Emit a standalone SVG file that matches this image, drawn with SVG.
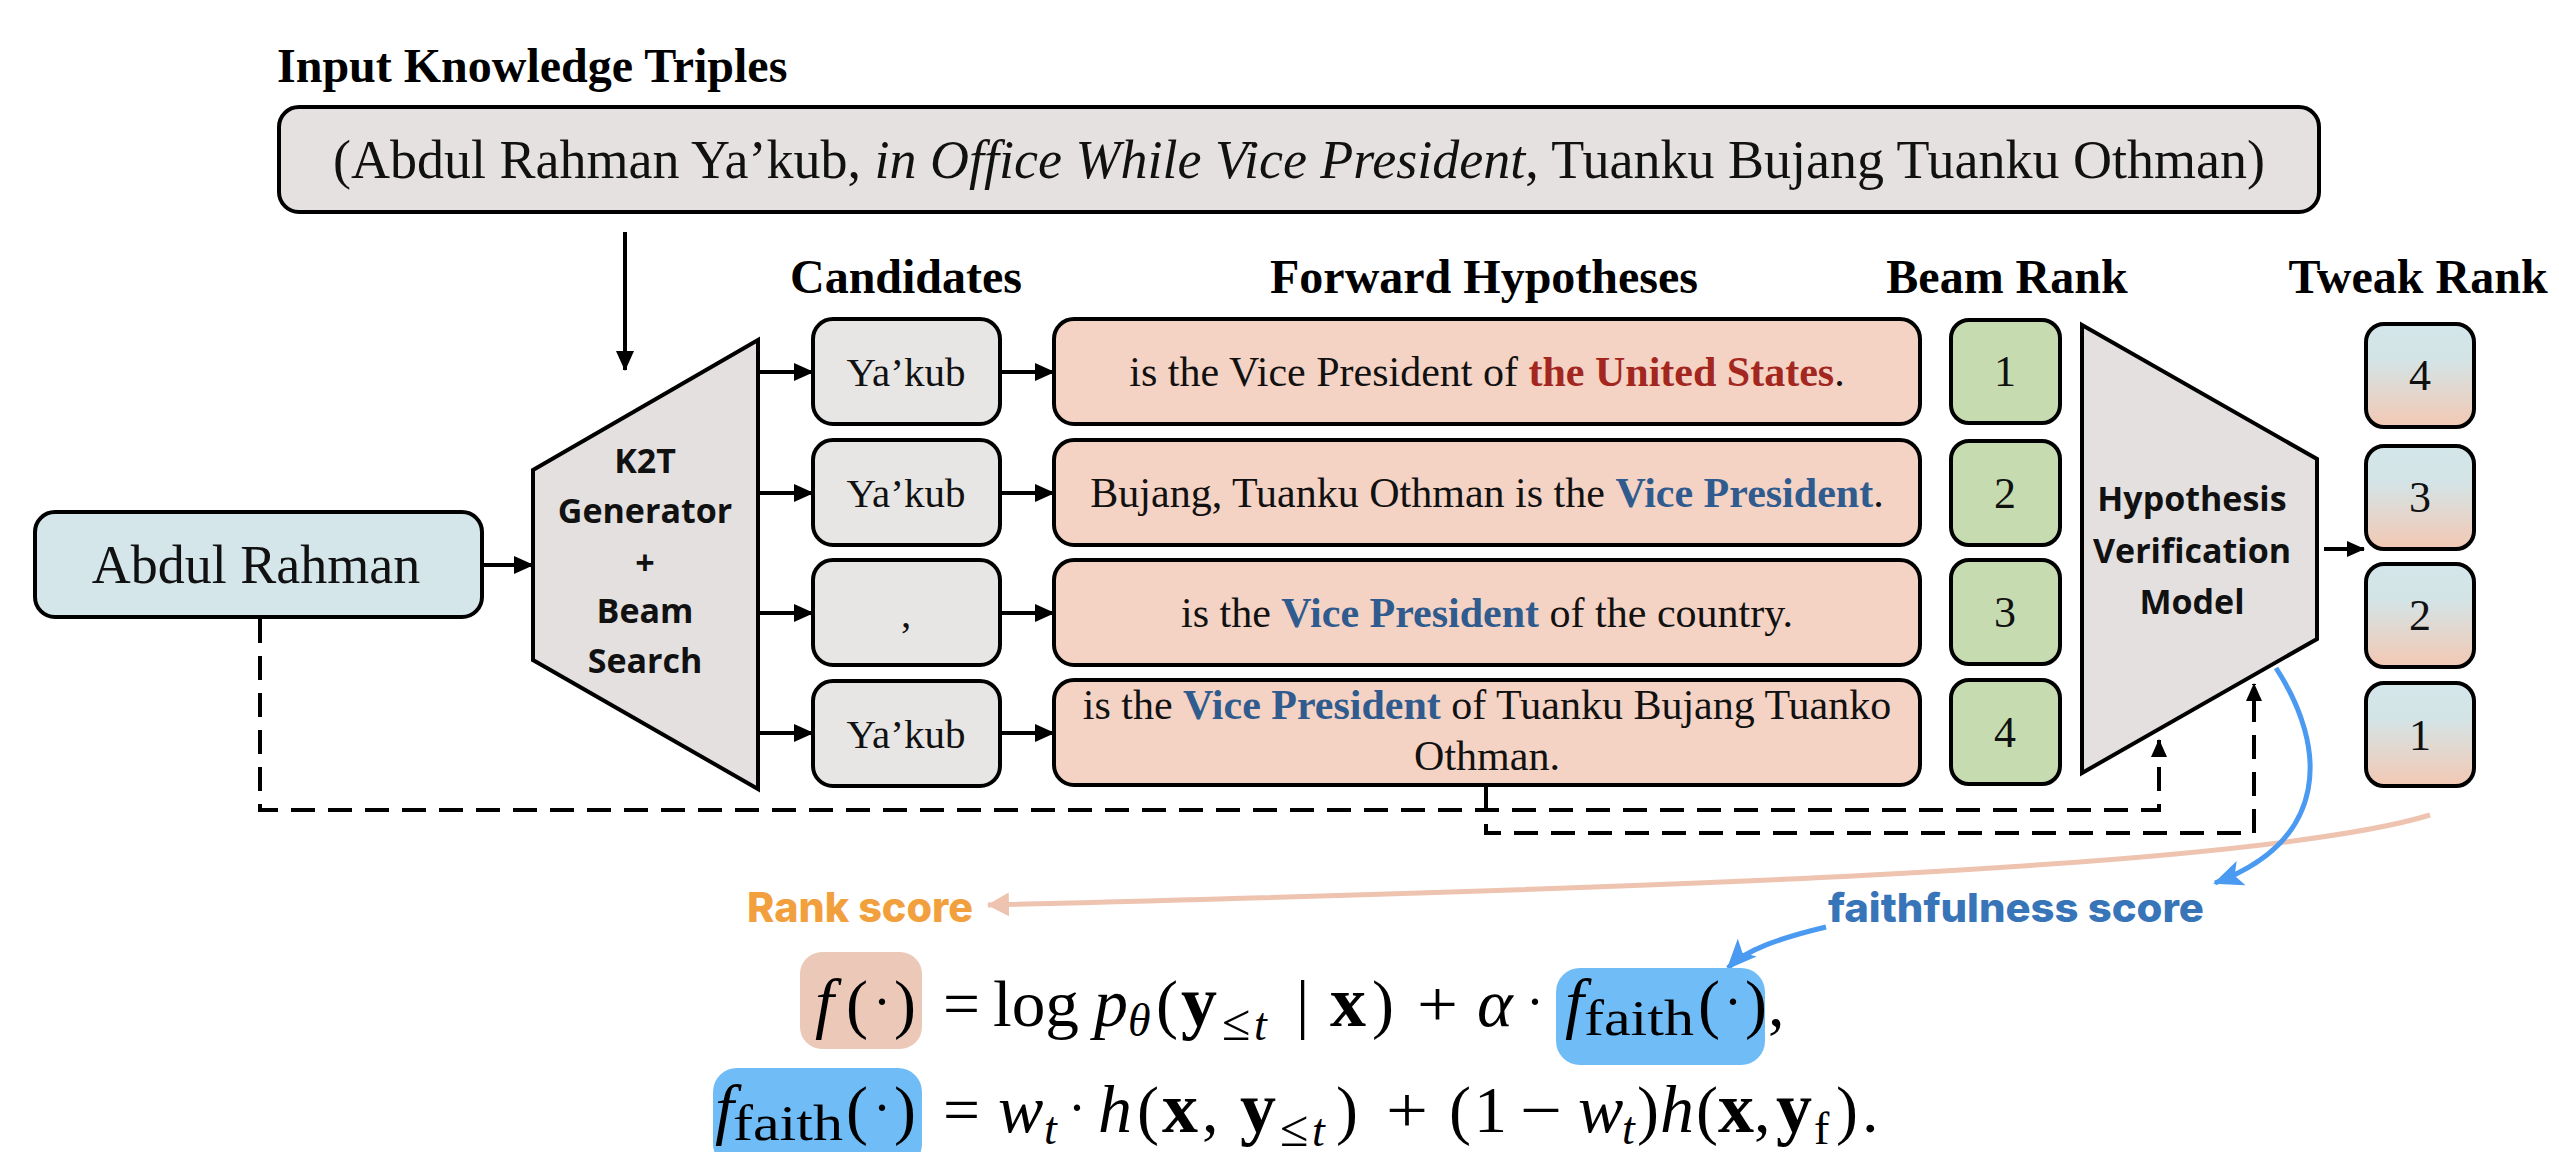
<svg xmlns="http://www.w3.org/2000/svg" width="2559" height="1152" viewBox="0 0 2559 1152">
<style>
.box{stroke:#000;stroke-width:4}
.serif{font-family:"Liberation Serif","Times New Roman",serif}
.hdr{font-family:"Liberation Serif","Times New Roman",serif;font-weight:bold;font-size:48px;text-anchor:middle;fill:#000}
.sans{font-family:"Open Sans","Noto Sans",sans-serif;font-weight:700;font-size:34px;text-anchor:middle;fill:#111}
.cand{font-family:"Liberation Serif","Times New Roman",serif;font-size:41px;text-anchor:middle;fill:#111}
.hyp{font-family:"Liberation Serif","Times New Roman",serif;font-size:42px;text-anchor:middle;fill:#111}
.num{font-family:"Liberation Serif","Times New Roman",serif;font-size:44px;text-anchor:middle;fill:#111}
.red{fill:#a3271f;font-weight:bold}
.blue{fill:#2f5b8e;font-weight:bold}
.conn{stroke:#000;stroke-width:4;fill:none}
.dash{stroke:#000;stroke-width:4;fill:none;stroke-dasharray:24 13}
.m{font-family:"Liberation Serif","Times New Roman",serif;font-size:66px;fill:#000}
.mi{font-style:italic;font-size:68px}
.mb{font-weight:bold;font-size:72px}
.sub{font-size:46px}
.le{font-size:52px}
.fa{font-size:50px}
.dot{font-size:54px}
</style>
<defs>
<marker id="ah" markerUnits="userSpaceOnUse" markerWidth="20" markerHeight="18" refX="19" refY="9" orient="auto">
<path d="M0,0 L20,9 L0,18 z" fill="#000"/>
</marker>
<marker id="ahs" markerUnits="userSpaceOnUse" markerWidth="18" markerHeight="16" refX="17" refY="8" orient="auto">
<path d="M0,0 L18,8 L0,16 z" fill="#000"/>
</marker>
<marker id="ahb" markerUnits="userSpaceOnUse" markerWidth="30" markerHeight="26" refX="28" refY="13" orient="auto">
<path d="M0,0 L30,13 L0,26 L7,13 z" fill="#4a9af2"/>
</marker>
<marker id="ahsal" markerUnits="userSpaceOnUse" markerWidth="22" markerHeight="24" refX="21" refY="12" orient="auto">
<path d="M0,0 L22,12 L0,24 z" fill="#eec3b0"/>
</marker>
<linearGradient id="tg" x1="0" y1="0" x2="0" y2="1">
<stop offset="0" stop-color="#d3e6ea"/>
<stop offset="0.35" stop-color="#d4e4e6"/>
<stop offset="1" stop-color="#f3c8b3"/>
</linearGradient>
</defs>
<rect width="2559" height="1152" fill="#fff"/>

<text class="serif" x="277" y="82" font-size="48" font-weight="bold">Input Knowledge Triples</text>

<g id="triples">
<rect class="box" x="279" y="107" width="2040" height="105" rx="20" fill="#e4e1e0"/>
<text class="serif" x="1299" y="178" font-size="54" text-anchor="middle" fill="#111">(Abdul Rahman Ya’kub, <tspan font-style="italic">in Office While Vice President</tspan>, Tuanku Bujang Tuanku Othman)</text>
</g>

<g id="abdul">
<rect class="box" x="35" y="512" width="447" height="105" rx="20" fill="#d4e6ea"/>
<text class="serif" x="256" y="583" font-size="54" text-anchor="middle" fill="#111">Abdul Rahman</text>
</g>

<g id="k2t">
<polygon class="box" points="533,470 758,340 758,789 533,660" fill="#e3e0df"/>
<text class="sans" x="645" y="473">K2T</text>
<text class="sans" x="645" y="523">Generator</text>
<text class="sans" x="645" y="575">+</text>
<text class="sans" x="645" y="623">Beam</text>
<text class="sans" x="645" y="673">Search</text>
</g>

<text class="hdr" x="906" y="293">Candidates</text>
<text class="hdr" x="1484" y="293">Forward Hypotheses</text>
<text class="hdr" x="2007" y="293">Beam Rank</text>
<text class="hdr" x="2418" y="293">Tweak Rank</text>

<g id="cand1"><rect class="box" x="813" y="319" width="187" height="105" rx="20" fill="#e8e6e5"/><text class="cand" x="906" y="386">Ya’kub</text></g>
<g id="cand2"><rect class="box" x="813" y="440" width="187" height="105" rx="20" fill="#e8e6e5"/><text class="cand" x="906" y="507">Ya’kub</text></g>
<g id="cand3"><rect class="box" x="813" y="560" width="187" height="105" rx="20" fill="#e8e6e5"/><text class="cand" x="906" y="627">,</text></g>
<g id="cand4"><rect class="box" x="813" y="681" width="187" height="105" rx="20" fill="#e8e6e5"/><text class="cand" x="906" y="748">Ya’kub</text></g>

<g id="hyp1"><rect class="box" x="1054" y="319" width="866" height="105" rx="20" fill="#f5d3c4"/><text class="hyp" x="1487" y="386">is the Vice President of <tspan class="red">the United States</tspan>.</text></g>
<g id="hyp2"><rect class="box" x="1054" y="440" width="866" height="105" rx="20" fill="#f5d3c4"/><text class="hyp" x="1487" y="507">Bujang, Tuanku Othman is the <tspan class="blue">Vice President</tspan>.</text></g>
<g id="hyp3"><rect class="box" x="1054" y="560" width="866" height="105" rx="20" fill="#f5d3c4"/><text class="hyp" x="1487" y="627">is the <tspan class="blue">Vice President</tspan> of the country.</text></g>
<g id="hyp4"><rect class="box" x="1054" y="680" width="866" height="105" rx="20" fill="#f5d3c4"/><text class="hyp" x="1487" y="719">is the <tspan class="blue">Vice President</tspan> of Tuanku Bujang Tuanko</text><text class="hyp" x="1487" y="770">Othman.</text></g>

<g id="beam1"><rect class="box" x="1951" y="320" width="109" height="103" rx="18" fill="#c6dcb0"/><text class="num" x="2005" y="386">1</text></g>
<g id="beam2"><rect class="box" x="1951" y="441" width="109" height="104" rx="18" fill="#c6dcb0"/><text class="num" x="2005" y="508">2</text></g>
<g id="beam3"><rect class="box" x="1951" y="560" width="109" height="104" rx="18" fill="#c6dcb0"/><text class="num" x="2005" y="627">3</text></g>
<g id="beam4"><rect class="box" x="1951" y="680" width="109" height="104" rx="18" fill="#c6dcb0"/><text class="num" x="2005" y="747">4</text></g>

<g id="hvm">
<polygon class="box" points="2082,325 2317,459 2317,639 2082,773" fill="#e3e0df"/>
<text class="sans" x="2192" y="511">Hypothesis</text>
<text class="sans" x="2192" y="563">Verification</text>
<text class="sans" x="2192" y="614">Model</text>
</g>

<g id="tweak1"><rect class="box" x="2366" y="324" width="108" height="103" rx="18" fill="url(#tg)"/><text class="num" x="2420" y="390">4</text></g>
<g id="tweak2"><rect class="box" x="2366" y="446" width="108" height="103" rx="18" fill="url(#tg)"/><text class="num" x="2420" y="512">3</text></g>
<g id="tweak3"><rect class="box" x="2366" y="564" width="108" height="103" rx="18" fill="url(#tg)"/><text class="num" x="2420" y="630">2</text></g>
<g id="tweak4"><rect class="box" x="2366" y="683" width="108" height="103" rx="18" fill="url(#tg)"/><text class="num" x="2420" y="750">1</text></g>

<g id="connectors">
<path class="conn" stroke-width="3" d="M625,232 V370" marker-end="url(#ah)"/>
<path class="conn" d="M482,565 H533" marker-end="url(#ah)"/>
<path class="conn" d="M759,372 H813" marker-end="url(#ah)"/>
<path class="conn" d="M759,493 H813" marker-end="url(#ah)"/>
<path class="conn" d="M759,613 H813" marker-end="url(#ah)"/>
<path class="conn" d="M759,733 H813" marker-end="url(#ah)"/>
<path class="conn" d="M1002,372 H1054" marker-end="url(#ah)"/>
<path class="conn" d="M1002,493 H1054" marker-end="url(#ah)"/>
<path class="conn" d="M1002,613 H1054" marker-end="url(#ah)"/>
<path class="conn" d="M1002,733 H1054" marker-end="url(#ah)"/>
<path class="conn" stroke-width="3" d="M2324,549 H2364" marker-end="url(#ahs)"/>
<path class="dash" d="M260,619 V810 H2159 V740" marker-end="url(#ahs)"/>
<path class="dash" d="M1486,787 V833 H2254 V684" marker-end="url(#ahs)"/>
<path d="M2430,815 C2250,870 1600,890 988,905" fill="none" stroke="#eec3b0" stroke-width="5" marker-end="url(#ahsal)"/>
<path d="M2276,668 C2328,748 2330,840 2215,883" fill="none" stroke="#4a9af2" stroke-width="5" marker-end="url(#ahb)"/>
<path d="M1826,927 C1780,938 1745,950 1728,968" fill="none" stroke="#4a9af2" stroke-width="5" marker-end="url(#ahb)"/>
</g>

<text x="747" y="922" font-family="Inter,'Noto Sans',sans-serif" font-weight="800" font-size="41" fill="#f2a03d" textLength="226" lengthAdjust="spacingAndGlyphs">Rank score</text>
<text x="1828" y="922" font-family="Inter,'Noto Sans',sans-serif" font-weight="800" font-size="40" fill="#3774b8" textLength="376" lengthAdjust="spacingAndGlyphs">faithfulness score</text>

<g id="formula">
<rect x="800" y="952" width="122" height="97" rx="22" fill="#ecc8b8"/>
<rect x="1556" y="968" width="209" height="97" rx="24" fill="#70bcf6"/>
<rect x="713" y="1068" width="209" height="100" rx="24" fill="#70bcf6"/>
<g class="m">
<text x="815" y="1026" class="mi">f</text>
<text x="846" y="1026">(</text><text x="873" y="1020" class="dot">·</text><text x="894" y="1026">)</text>
<text x="943" y="1026" textLength="37" lengthAdjust="spacingAndGlyphs">=</text>
<text x="993" y="1026" textLength="86" lengthAdjust="spacingAndGlyphs">log</text>
<text x="1094" y="1026" class="mi">p</text><text x="1128" y="1036" class="mi sub">θ</text>
<text x="1156" y="1026">(</text>
<text x="1181" y="1026" class="mb">y</text>
<text x="1222" y="1040" class="le">≤</text><text x="1254" y="1040" class="mi sub">t</text>
<text x="1296" y="1026">|</text>
<text x="1330" y="1026" class="mb">x</text>
<text x="1372" y="1026">)</text>
<text x="1417" y="1026" textLength="41" lengthAdjust="spacingAndGlyphs">+</text>
<text x="1477" y="1026" class="mi">α</text>
<text x="1526" y="1020" class="dot">·</text>
<text x="1565" y="1026" class="mi">f</text><text x="1584" y="1035" class="fa" textLength="110" lengthAdjust="spacingAndGlyphs">faith</text>
<text x="1698" y="1026">(</text><text x="1724" y="1020" class="dot">·</text><text x="1745" y="1026">)</text>
<text x="1768" y="1026">,</text>

<text x="715" y="1132" class="mi">f</text><text x="733" y="1140" class="fa" textLength="110" lengthAdjust="spacingAndGlyphs">faith</text>
<text x="846" y="1132">(</text><text x="873" y="1126" class="dot">·</text><text x="894" y="1132">)</text>
<text x="943" y="1132" textLength="37" lengthAdjust="spacingAndGlyphs">=</text>
<text x="998" y="1132" class="mi">w</text><text x="1044" y="1144" class="mi sub">t</text>
<text x="1068" y="1126" class="dot">·</text>
<text x="1098" y="1132" class="mi">h</text>
<text x="1137" y="1132">(</text>
<text x="1162" y="1132" class="mb">x</text><text x="1202" y="1132">,</text>
<text x="1240" y="1132" class="mb">y</text>
<text x="1280" y="1146" class="le">≤</text><text x="1312" y="1146" class="mi sub">t</text>
<text x="1336" y="1132">)</text>
<text x="1386" y="1132" textLength="42" lengthAdjust="spacingAndGlyphs">+</text>
<text x="1449" y="1132">(</text>
<text x="1474" y="1132">1</text>
<text x="1520" y="1132" textLength="42" lengthAdjust="spacingAndGlyphs">−</text>
<text x="1578" y="1132" class="mi">w</text><text x="1622" y="1144" class="mi sub">t</text>
<text x="1637" y="1132">)</text>
<text x="1660" y="1132" class="mi">h</text>
<text x="1696" y="1132">(</text>
<text x="1718" y="1132" class="mb">x</text><text x="1754" y="1132">,</text>
<text x="1776" y="1132" class="mb">y</text><text x="1814" y="1144" class="sub">f</text>
<text x="1836" y="1132">)</text>
<text x="1862" y="1132">.</text>
</g>
</g>
</svg>
